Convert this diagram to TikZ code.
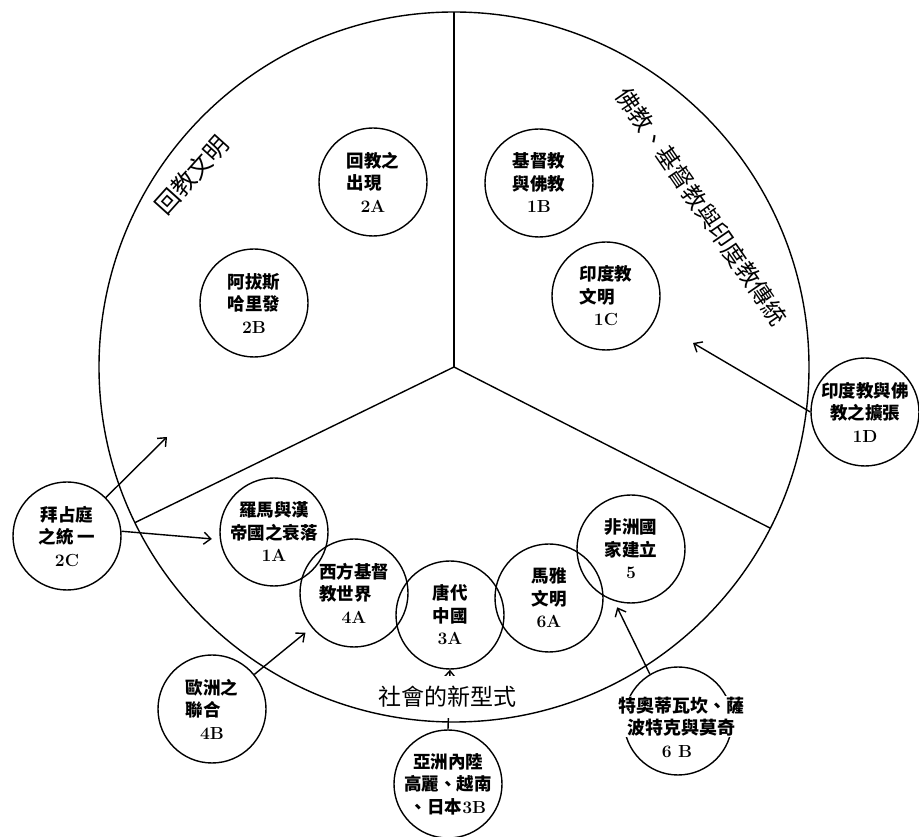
\documentclass[tikz,border=0pt]{standalone}
\usepackage{fontspec}
\newfontfamily\cjk{Noto Sans CJK TC}
\usetikzlibrary{arrows.meta}
\newcommand{\nr}[1]{{\rmfamily\bfseries #1}}

\begin{document}
\begin{tikzpicture}[x=1pt,y=1pt,line width=1.4pt,
    bub/.style={circle,draw,minimum size=108pt,inner sep=0pt,align=center,
        font=\cjk\bfseries\fontsize{17.5}{22.5}\selectfont},
    part/.style={inner sep=1pt,font=\cjk\fontsize{#1}{#1}\selectfont},
    >={Straight Barb[length=7pt,width=12pt]}]

\useasboundingbox (0,0) rectangle (919,836);

\node[bub] (b2A) at (373,654) {回教之\\出現\phantom{之}\\\nr{2A}};
\node[bub] (b2B) at (254,533) {阿拔斯\\哈里發\\\nr{2B}};
\node[bub] (b1B) at (539,653) {基督教\\與佛教\\\nr{1B}};
\node[bub] (b1C) at (606,540) {印度教\\文明\phantom{教}\\\nr{1C}};
\node[bub] (b1D) at (865,424) {印度教與佛\\教之擴張\\\nr{1D}};
\node[bub] (b2C) at (67,300) {拜占庭\\之統 一\\\nr{2C}};
\node[bub] (b1A) at (274,304) {羅馬與漢\\帝國之衰落\\\nr{1A}};
\node[bub] (b4A) at (354,243) {西方基督\\教世界\phantom{督}\\\nr{4A}};
\node[bub] (b3A) at (450,221) {唐代\\中國\\\nr{3A}};
\node[bub] (b6A) at (549,238) {馬雅\\文明\\\nr{6A}};
\node[bub] (b5) at (631,287) {非洲國\\家建立\\\nr{5}};
\node[bub] (b4B) at (212,127) {歐洲之\\聯合\phantom{之}\\\nr{4B}};
\node[bub] (b3B) at (448,52) {亞洲內陸\\高麗、越南\\、日本\nr{3B}};
\node[bub] (b6B) at (678,115) {};

\coordinate (tip2C) at (167,399);
\coordinate (tip1D) at (693,493);

\draw[->] (b2C) -- (tip2C);
\draw[->,shorten >=8pt] (b2C.5) -- (b1A.188);
\draw[->,shorten >=8pt] (b4B) -- (b4A);
\draw[->] (b1D.west) -- (tip1D);
\draw[->,shorten >=7pt] (b6B.121) -- (b5.252);
\draw[->] (b3B.north) -- (b3A.south);

\node[part=24,rotate=48] (islam) at (192,661) {回教文明};
\node[part=23.5,rotate=-55.4] (faith) at (701.5,629.5) {佛教、基督教與印度教傳統};
\node[part=23,fill=white,inner ysep=10pt] (newform) at (447,139) {社會的新型式};

\def\R{355}
\coordinate (mid) at (454,469);
\draw (mid) circle (\R);
\foreach \a in {90,206,333}
{
    \draw (mid) -- ++(\a:\R);
}

\node[fill=white,inner sep=1pt,align=center,font=\cjk\bfseries\fontsize{18}{22.5}\selectfont]
    (b6Btxt) at (681,119.5) {特奧蒂瓦坎、薩\\波特克與莫奇};
\node[font=\rmfamily\bfseries\fontsize{17.5}{22}\selectfont] (b6Bnr) at (677,84) {6 B};

\end{tikzpicture}
\end{document}
